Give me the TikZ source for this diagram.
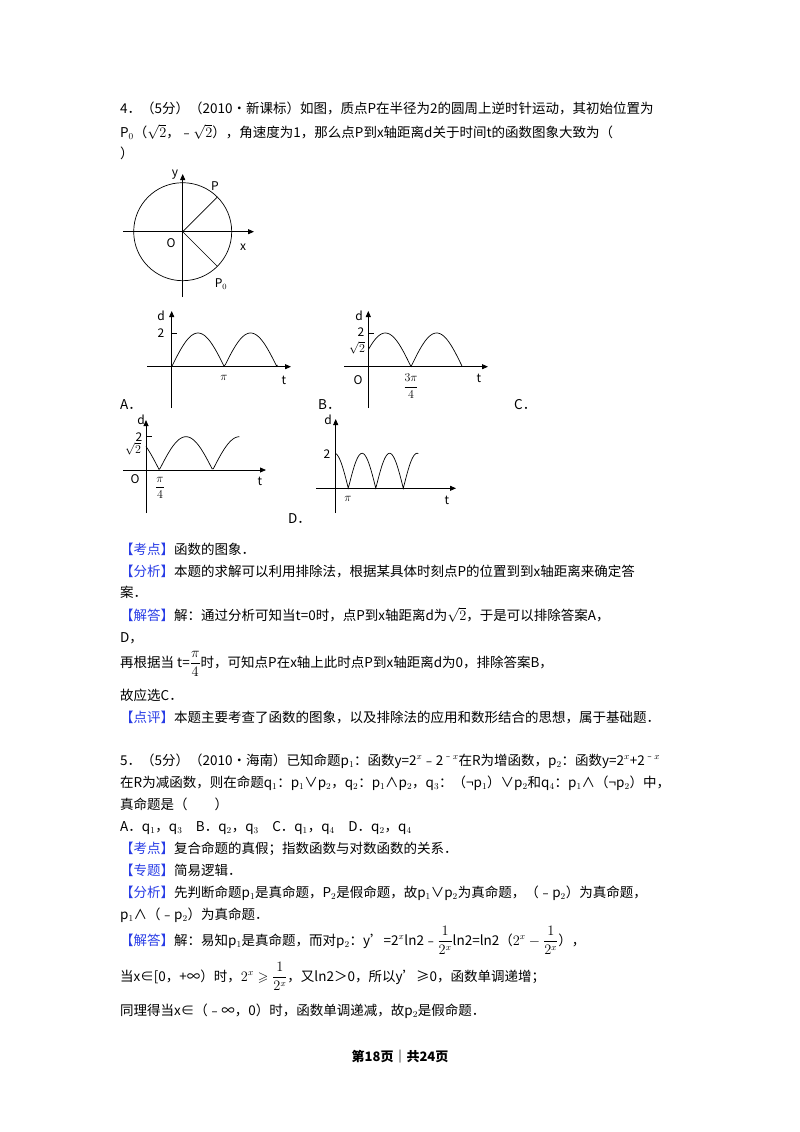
\documentclass[tikz,border=0pt]{standalone}
\usepackage{amsmath,amssymb}
\usepackage{fontspec}
\setmainfont{Noto Sans CJK SC}
\usetikzlibrary{arrows.meta}
\definecolor{tagblue}{RGB}{40,60,230}
\newcommand{\kd}[1]{\textcolor{tagblue}{【#1】}}
\tikzset{
 ln/.style={anchor=base west,inner sep=0pt,font=\fontsize{13.5}{16}\selectfont},
 ax/.style={line width=0.8pt,-{Triangle[length=6pt,width=5pt]}},
 crv/.style={line width=0.7pt},
 lbl/.style={font=\fontsize{12}{13}\selectfont\rmfamily,inner sep=1pt},
 ilbl/.style={font=\fontsize{12}{13}\selectfont\rmfamily\itshape,inner sep=1pt},
}
\begin{document}
\begin{tikzpicture}[x=1pt,y=-1pt]
\useasboundingbox (0,0) rectangle (800,1132);
\fill[white] (0,0) rectangle (800,1132);
% ---- question 4 text
\node[ln] (l1) at (120,113) {4．（5分）（2010•新课标）如图，质点P在半径为2的圆周上逆时针运动，其初始位置为};
\node[ln] (l2) at (120,137) {P$_0$（$\sqrt{2}$，﹣$\sqrt{2}$），角速度为1，那么点P到x轴距离d关于时间t的函数图象大致为（};
\node[ln] (l3) at (120,158) {）};
% ---- circle figure
\coordinate (O) at (182.7,231.7);
\draw[line width=0.7pt] (O) circle (49);
\draw[ax] (182.7,297) -- (182.7,174) coordinate (ytip);
\draw[ax] (123,231.7) -- (254,231.7) coordinate (xtip);
\draw[line width=0.6pt] (O) -- ++(34.6,-34.6) coordinate (P);
\draw[line width=0.6pt] (O) -- ++(34.6,34.6) coordinate (P0);
\node[ilbl] (ylab) at (175,175) {y};
\node[lbl] (Plab) at (215,186) {P};
\node[lbl] (Olab) at (171,243) {O};
\node[ilbl] (xlab) at (243,247) {x};
\node[lbl] (P0lab) at (221,284) {P$_0$};
% ---- graph A
\draw[ax] (171.7,408) -- (171.7,311);
\draw[ax] (147,366.7) -- (291,366.7);
\draw[crv,domain=0:106,samples=80] plot ({171.7+\x},{366.7-33.7*abs(sin(\x/52.6*180))});
\draw[line width=0.6pt] (171.7,333) -- (177,333);
\node[lbl] (Ad) at (161,316) {d};
\node[lbl] (A2) at (161,333) {2};
\node[lbl] (Api) at (224,378) {$\pi$};
\node[lbl] (At) at (284,380) {t};
\node[ln] (Alab) at (120,409) {A．};
% ---- graph B
\draw[ax] (368.3,408) -- (368.3,311);
\draw[ax] (344,366.7) -- (488,366.7);
\draw[crv,domain=-42.7:51.3,samples=80] plot ({411+\x},{366.7-33.7*abs(sin(\x/51.3*180))});
\draw[line width=0.6pt] (368.3,333) -- (374,333);
\node[lbl] (Bd) at (359,316) {d};
\node[lbl] (B2) at (361,332) {2};
\node[lbl] (Bs2) at (357,348) {$\sqrt2$};
\node[lbl] (BO) at (358,380) {O};
\node[lbl] (Bfrac) at (411,386) {$\dfrac{3\pi}{4}$};
\node[lbl] (Bt) at (479,378) {t};
\node[ln] (Blab) at (318,409) {B．};
\node[ln] (Clab) at (514,409) {C．};
% ---- graph C
\draw[ax] (146,513) -- (146,420);
\draw[ax] (123,470) -- (266,470);
\draw[crv,domain=-13.3:80,samples=80] plot ({159.3+\x},{470-33.3*abs(sin(\x/53.4*180))});
\draw[line width=0.6pt] (146,436.7) -- (152,436.7);
\node[ilbl] (Cd) at (141,420) {d};
\node[lbl] (C2) at (139,436.7) {2};
\node[lbl] (Cs2) at (133,449) {$\sqrt2$};
\node[ilbl] (CO) at (135,479) {O};
\node[lbl] (Cfrac) at (160,488) {$\dfrac{\pi}{4}$};
\node[ilbl] (Ct) at (260,481) {t};
% ---- graph D
\draw[ax] (335.7,513) -- (335.7,419);
\draw[ax] (316,488.3) -- (456,488.3);
\draw[crv,domain=-12.6:70,samples=100] plot ({348.3+\x},{488.3-35*abs(sin(\x/27.5*180))});
\node[ilbl] (Dd) at (328,420) {d};
\node[lbl] (D2) at (327,454) {2};
\node[lbl] (Dpi) at (348,499) {$\pi$};
\node[ilbl] (Dt) at (447,500) {t};
\node[ln] (Dlab) at (288,523) {D．};
% ---- solution 4
\node[ln] (s1) at (120,554) {\kd{考点}函数的图象．};
\node[ln] (s2) at (120,576) {\kd{分析}本题的求解可以利用排除法，根据某具体时刻点P的位置到到x轴距离来确定答};
\node[ln] (s3) at (120,597) {案．};
\node[ln] (s4) at (120,620) {\kd{解答}解：通过分析可知当t=0时，点P到x轴距离d为$\sqrt{2}$，于是可以排除答案A，};
\node[ln] (s5) at (120,642) {D，};
\node[ln] (s6) at (120,667) {再根据当 t=$\dfrac{\pi}{4}$时，可知点P在x轴上此时点P到x轴距离d为0，排除答案B，};
\node[ln] (s7) at (120,700) {故应选C．};
\node[ln] (s8) at (120,722) {\kd{点评}本题主要考查了函数的图象，以及排除法的应用和数形结合的思想，属于基础题．};
% ---- question 5
\node[ln] (q1) at (120,765) {5．（5分）（2010•海南）已知命题p$_1$：函数y=2$^{x}$﹣2$^{﹣x}$在R为增函数，p$_2$：函数y=2$^{x}$+2$^{﹣x}$};
\node[ln] (q2) at (120,787) {在R为减函数，则在命题q$_1$：p$_1$∨p$_2$，q$_2$：p$_1$∧p$_2$，q$_3$：（¬p$_1$）∨p$_2$和q$_4$：p$_1$∧（¬p$_2$）中，};
\node[ln] (q3) at (120,809) {真命题是（　　）};
\node[ln] (q4) at (120,831) {A．q$_1$，q$_3$　B．q$_2$，q$_3$　C．q$_1$，q$_4$　D．q$_2$，q$_4$};
\node[ln] (t1) at (120,853) {\kd{考点}复合命题的真假；指数函数与对数函数的关系．};
\node[ln] (t2) at (120,875) {\kd{专题}简易逻辑．};
\node[ln] (t3) at (120,897) {\kd{分析}先判断命题p$_1$是真命题，P$_2$是假命题，故p$_1$∨p$_2$为真命题，（﹣p$_2$）为真命题，};
\node[ln] (t4) at (120,919) {p$_1$∧（﹣p$_2$）为真命题．};
\node[ln] (t5) at (120,945) {\kd{解答}解：易知p$_1$是真命题，而对p$_2$：y'=2$^{x}$ln2﹣$\dfrac{1}{2^{x}}$ln2=ln2（$2^{x}-\dfrac{1}{2^{x}}$），};
\node[ln] (t6) at (120,981) {当x∈[0，+∞）时，$2^{x}\geqslant\dfrac{1}{2^{x}}$，又ln2＞0，所以y'≥0，函数单调递增；};
\node[ln] (t7) at (120,1015) {同理得当x∈（﹣∞，0）时，函数单调递减，故p$_2$是假命题．};
% ---- footer
\node[font=\fontsize{13}{15}\selectfont\bfseries,inner sep=0pt] (foot) at (400,1057) {第18页｜共24页};
\end{tikzpicture}
\end{document}
